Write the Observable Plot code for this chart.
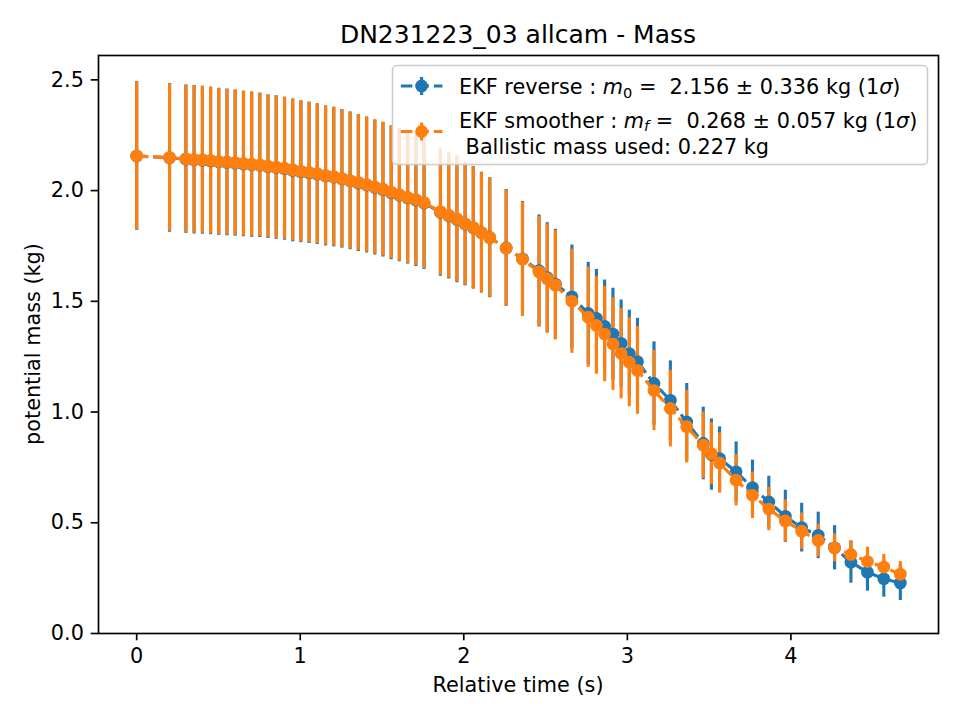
<!DOCTYPE html>
<html>
<head>
<meta charset="utf-8">
<script src="https://cdn.jsdelivr.net/npm/d3@7"></script>
<script src="https://cdn.jsdelivr.net/npm/@observablehq/plot@0.6"></script>
<style>
  body { margin: 0; background: #fff; }
  svg { font-family: "DejaVu Sans", sans-serif; }
  text { white-space: pre; }
</style>
</head>
<body>
<div id="chart"></div>
<script>
// ---- data ----
const times = [0.000, 0.201, 0.301, 0.351, 0.402, 0.452, 0.502, 0.552, 0.602, 0.653,
  0.703, 0.753, 0.803, 0.853, 0.904, 0.954, 1.004, 1.054, 1.104, 1.155,
  1.205, 1.255, 1.305, 1.355, 1.406, 1.456, 1.506, 1.556, 1.606, 1.657,
  1.707, 1.757, 1.857, 1.908, 1.958, 2.008, 2.058, 2.108, 2.159, 2.259,
  2.359, 2.460, 2.510, 2.560, 2.661, 2.761, 2.811, 2.861, 2.912, 2.962,
  3.012, 3.062, 3.163, 3.263, 3.363, 3.464, 3.514, 3.564, 3.665, 3.765,
  3.865, 3.966, 4.066, 4.167, 4.267, 4.367, 4.468, 4.568, 4.669];

const reverseMass = [2.156, 2.148, 2.142, 2.139, 2.137, 2.134, 2.130, 2.127, 2.124, 2.120,
  2.117, 2.114, 2.108, 2.104, 2.099, 2.091, 2.085, 2.080, 2.074, 2.066,
  2.061, 2.053, 2.044, 2.034, 2.025, 2.014, 2.004, 1.990, 1.979, 1.967,
  1.957, 1.944, 1.902, 1.886, 1.870, 1.849, 1.832, 1.810, 1.787, 1.741,
  1.692, 1.638, 1.607, 1.578, 1.520, 1.445, 1.423, 1.387, 1.352, 1.310,
  1.264, 1.227, 1.129, 1.053, 0.955, 0.858, 0.808, 0.790, 0.730, 0.659,
  0.594, 0.529, 0.478, 0.443, 0.387, 0.322, 0.277, 0.247, 0.228];

const reverseSigma = [0.336, 0.336, 0.335, 0.335, 0.334, 0.333, 0.332, 0.331, 0.330, 0.329,
  0.328, 0.326, 0.324, 0.324, 0.323, 0.322, 0.320, 0.319, 0.318, 0.316,
  0.315, 0.313, 0.311, 0.309, 0.307, 0.305, 0.304, 0.302, 0.300, 0.299,
  0.300, 0.300, 0.289, 0.285, 0.286, 0.279, 0.277, 0.273, 0.271, 0.264,
  0.259, 0.252, 0.248, 0.247, 0.234, 0.231, 0.221, 0.209, 0.207, 0.196,
  0.196, 0.196, 0.188, 0.178, 0.174, 0.164, 0.161, 0.143, 0.135, 0.124,
  0.116, 0.118, 0.110, 0.105, 0.100, 0.095, 0.086, 0.083, 0.079];

const smootherMass = [2.156, 2.149, 2.143, 2.140, 2.139, 2.136, 2.131, 2.129, 2.126, 2.122,
  2.119, 2.116, 2.110, 2.106, 2.101, 2.094, 2.087, 2.082, 2.076, 2.068,
  2.063, 2.054, 2.045, 2.037, 2.027, 2.016, 2.006, 1.993, 1.981, 1.969,
  1.959, 1.946, 1.905, 1.888, 1.872, 1.850, 1.833, 1.810, 1.787, 1.740,
  1.690, 1.633, 1.602, 1.573, 1.500, 1.428, 1.391, 1.352, 1.307, 1.264,
  1.225, 1.188, 1.097, 1.016, 0.934, 0.850, 0.812, 0.770, 0.692, 0.624,
  0.562, 0.508, 0.462, 0.420, 0.387, 0.357, 0.325, 0.300, 0.268];

const smootherSigma = [0.334, 0.333, 0.333, 0.333, 0.332, 0.331, 0.330, 0.329, 0.328, 0.327,
  0.326, 0.324, 0.322, 0.322, 0.321, 0.320, 0.318, 0.317, 0.316, 0.314,
  0.313, 0.311, 0.309, 0.307, 0.305, 0.303, 0.302, 0.300, 0.298, 0.297,
  0.298, 0.298, 0.287, 0.283, 0.284, 0.277, 0.275, 0.271, 0.269, 0.262,
  0.257, 0.250, 0.247, 0.247, 0.235, 0.226, 0.220, 0.215, 0.209, 0.204,
  0.201, 0.198, 0.181, 0.173, 0.164, 0.150, 0.140, 0.136, 0.116, 0.105,
  0.098, 0.095, 0.082, 0.074, 0.063, 0.062, 0.065, 0.057, 0.057];

const xTicks = [0, 1, 2, 3, 4];
const yTicks = [0.0, 0.5, 1.0, 1.5, 2.0, 2.5];

const titleText = "DN231223_03 allcam - Mass";
const xLabel = "Relative time (s)";
const yLabel = "potential mass (kg)";
const seriesNames = ["EKF reverse", "EKF smoother"];
const legendM0 = ["2.156", "0.336"];
const legendMf = ["0.268", "0.057"];
const ballisticText = "\u00a0Ballistic mass used: 0.227 kg";

const BLUE = "#1f77b4";
const ORANGE = "#ff7f0e";

// ---- tables built from the arrays ----
const reverse = times.map((t, i) => ({t, m: reverseMass[i], lo: reverseMass[i] - reverseSigma[i], hi: reverseMass[i] + reverseSigma[i]}));
const smoother = times.map((t, i) => ({t, m: smootherMass[i], lo: smootherMass[i] - smootherSigma[i], hi: smootherMass[i] + smootherSigma[i]}));

const LW = 3.125;
const DASH = "11.56,5";
const FS = 20.8;

const plot = Plot.plot({
  width: 960,
  height: 720,
  marginLeft: 98,
  marginRight: 22,
  marginTop: 55,
  marginBottom: 87,
  style: {fontFamily: "DejaVu Sans", fontSize: FS + "px", background: "white", color: "black"},
  x: {domain: [-0.2334, 4.9024]},
  y: {domain: [0, 2.61]},
  marks: [
    Plot.ruleX(reverse, {x: "t", y1: "lo", y2: "hi", stroke: BLUE, strokeWidth: LW, strokeLinecap: "butt"}),
    Plot.ruleX(smoother, {x: "t", y1: "lo", y2: "hi", stroke: ORANGE, strokeWidth: LW, strokeLinecap: "butt"}),
    Plot.line(reverse, {x: "t", y: "m", stroke: BLUE, strokeWidth: LW, strokeDasharray: DASH, strokeLinecap: "butt"}),
    Plot.dot(reverse, {x: "t", y: "m", r: 6.4, fill: BLUE}),
    Plot.line(smoother, {x: "t", y: "m", stroke: ORANGE, strokeWidth: LW, strokeDasharray: DASH, strokeLinecap: "butt"}),
    Plot.dot(smoother, {x: "t", y: "m", r: 6.4, fill: ORANGE}),
    Plot.frame({stroke: "black", strokeWidth: 1.67}),
    Plot.axisX({ticks: xTicks, tickSize: 7.3, tickPadding: 7.3, strokeWidth: 1.67, label: null, tickFormat: d => String(d)}),
    Plot.axisY({ticks: yTicks, tickSize: 7.3, tickPadding: 7.3, strokeWidth: 1.67, label: null, tickFormat: d => d.toFixed(1)})
  ]
});

document.getElementById("chart").appendChild(plot);

// ---- title, axis labels, legend ----
const svg = d3.select(plot);
const ff = "DejaVu Sans, sans-serif";

svg.append("text").attr("x", 518).attr("y", 42.5).attr("text-anchor", "middle")
  .attr("font-size", 25).attr("font-family", ff).attr("fill", "black").text(titleText);
svg.append("text").attr("x", 518).attr("y", 692).attr("text-anchor", "middle")
  .attr("font-size", FS).attr("font-family", ff).attr("fill", "black").text(xLabel);
svg.append("text").attr("transform", "translate(40,344) rotate(-90)").attr("text-anchor", "middle")
  .attr("font-size", FS).attr("font-family", ff).attr("fill", "black").text(yLabel);

const lg = svg.append("g").attr("font-family", ff).attr("font-size", FS).attr("fill", "black")
  .attr("text-anchor", "start");
lg.append("rect").attr("x", 392.5).attr("y", 65.5).attr("width", 535).attr("height", 99)
  .attr("rx", 4).attr("fill", "white").attr("fill-opacity", 0.8)
  .attr("stroke", "#cccccc").attr("stroke-width", 1.5);

function handle(y, color) {
  lg.append("line").attr("x1", 400.8).attr("x2", 442.4).attr("y1", y).attr("y2", y)
    .attr("stroke", color).attr("stroke-width", LW).attr("stroke-dasharray", DASH);
  lg.append("line").attr("x1", 421.6).attr("x2", 421.6).attr("y1", y - 9).attr("y2", y + 9)
    .attr("stroke", color).attr("stroke-width", LW);
  lg.append("circle").attr("cx", 421.6).attr("cy", y).attr("r", 6.4).attr("fill", color);
}
handle(86, BLUE);
handle(131.5, ORANGE);

function mathLabel(y, name, sub, vals) {
  const t = lg.append("text").attr("x", 459).attr("y", y).attr("text-anchor", "start");
  t.append("tspan").text(name + " : ");
  t.append("tspan").attr("font-style", "italic").text("m");
  t.append("tspan").attr("font-size", 14.6).attr("dy", 3.5)
    .attr("font-style", sub === "f" ? "italic" : "normal").text(sub);
  t.append("tspan").attr("dy", -3.5).text(" =  " + vals[0] + " \u00b1 " + vals[1] + " kg (1");
  t.append("tspan").attr("font-style", "italic").text("\u03c3");
  t.append("tspan").text(")");
}
mathLabel(94, seriesNames[0], "0", legendM0);
mathLabel(127.5, seriesNames[1], "f", legendMf);
lg.append("text").attr("x", 459).attr("y", 153.5).attr("text-anchor", "start").text(ballisticText);
</script>
</body>
</html>
